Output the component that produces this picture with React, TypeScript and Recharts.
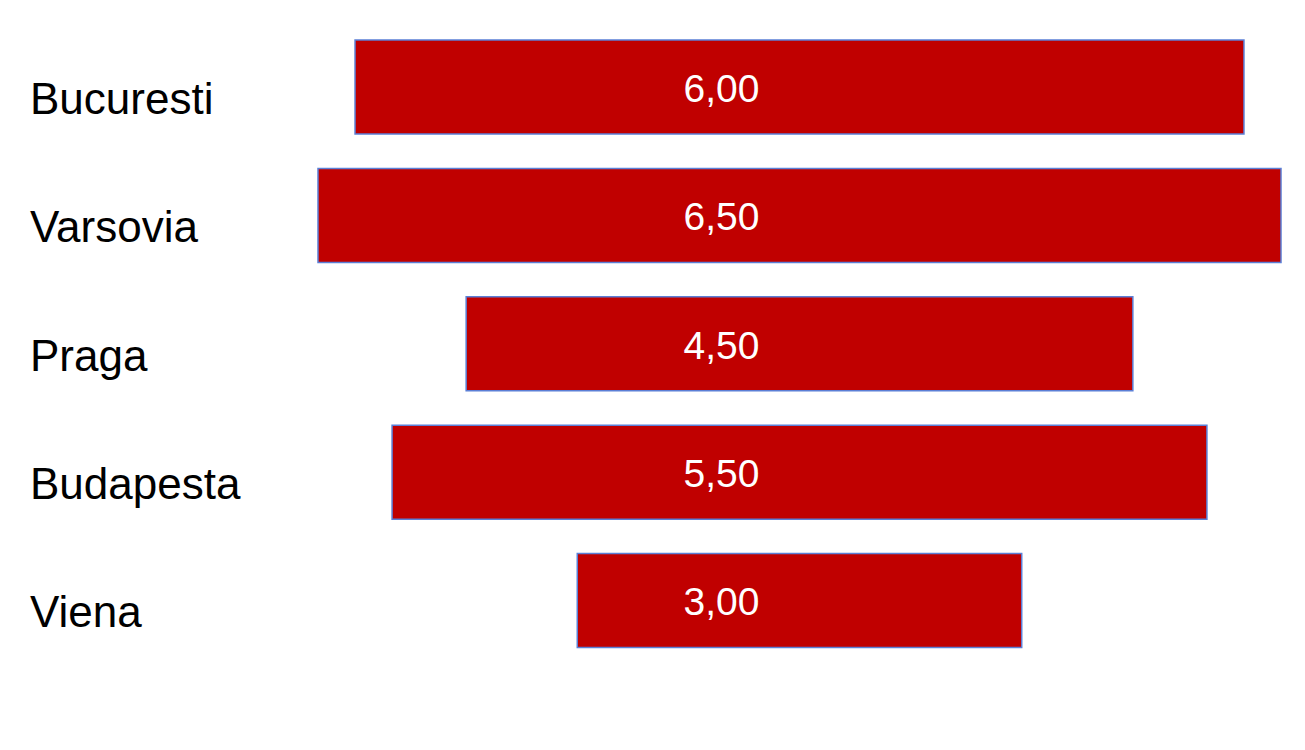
import React from 'react';
import { BarChart, Bar, XAxis, YAxis, LabelList } from 'recharts';

const cities = ['Bucuresti', 'Varsovia', 'Praga', 'Budapesta', 'Viena'];
const values = [6.0, 6.5, 4.5, 5.5, 3.0];

const maxValue = Math.max(...values);

// invisible spacer bar centres each bar, so the stack reads as a funnel
const data = cities.map((name, i) => ({
  name,
  spacer: (maxValue - values[i]) / 2,
  value: values[i],
}));

const fontFamily = '"Liberation Sans", Arial, sans-serif';

const CityTick = (props: any) => {
  const { y, payload } = props;
  return (
    <text x={30} y={y + 11} dy="0.355em" textAnchor="start" fontSize={44} fill="#000" fontFamily={fontFamily}>
      {payload.value}
    </text>
  );
};

const ValueLabel = (props: any) => {
  const { x, y, width, height, value } = props;
  const cx = x + width / 2 - 78;
  const cy = y + height / 2 + 1;
  return (
    <text x={cx} y={cy} dy="0.355em" textAnchor="middle" fontSize={39} fill="#fff" fontFamily={fontFamily}>
      {Number(value).toFixed(2).replace('.', ',')}
    </text>
  );
};

export default function App() {
  return (
    <div style={{ position: 'absolute', left: 0, top: 0, width: 1305, height: 750, background: '#fff' }}>
      <BarChart
        width={1305}
        height={750}
        data={data}
        layout="vertical"
        margin={{ top: 23, right: 24, bottom: 85, left: 0 }}
        barSize={94}
      >
        <XAxis type="number" hide domain={[0, maxValue]} />
        <YAxis
          type="category"
          dataKey="name"
          width={318}
          axisLine={false}
          tickLine={false}
          tick={<CityTick />}
        />
        <Bar dataKey="spacer" stackId="a" fill="transparent" isAnimationActive={false} />
        <Bar dataKey="value" stackId="a" fill="#C00000" stroke="#5B7FD6" strokeWidth={1.5} isAnimationActive={false}>
          <LabelList dataKey="value" content={<ValueLabel />} />
        </Bar>
      </BarChart>
    </div>
  );
}
